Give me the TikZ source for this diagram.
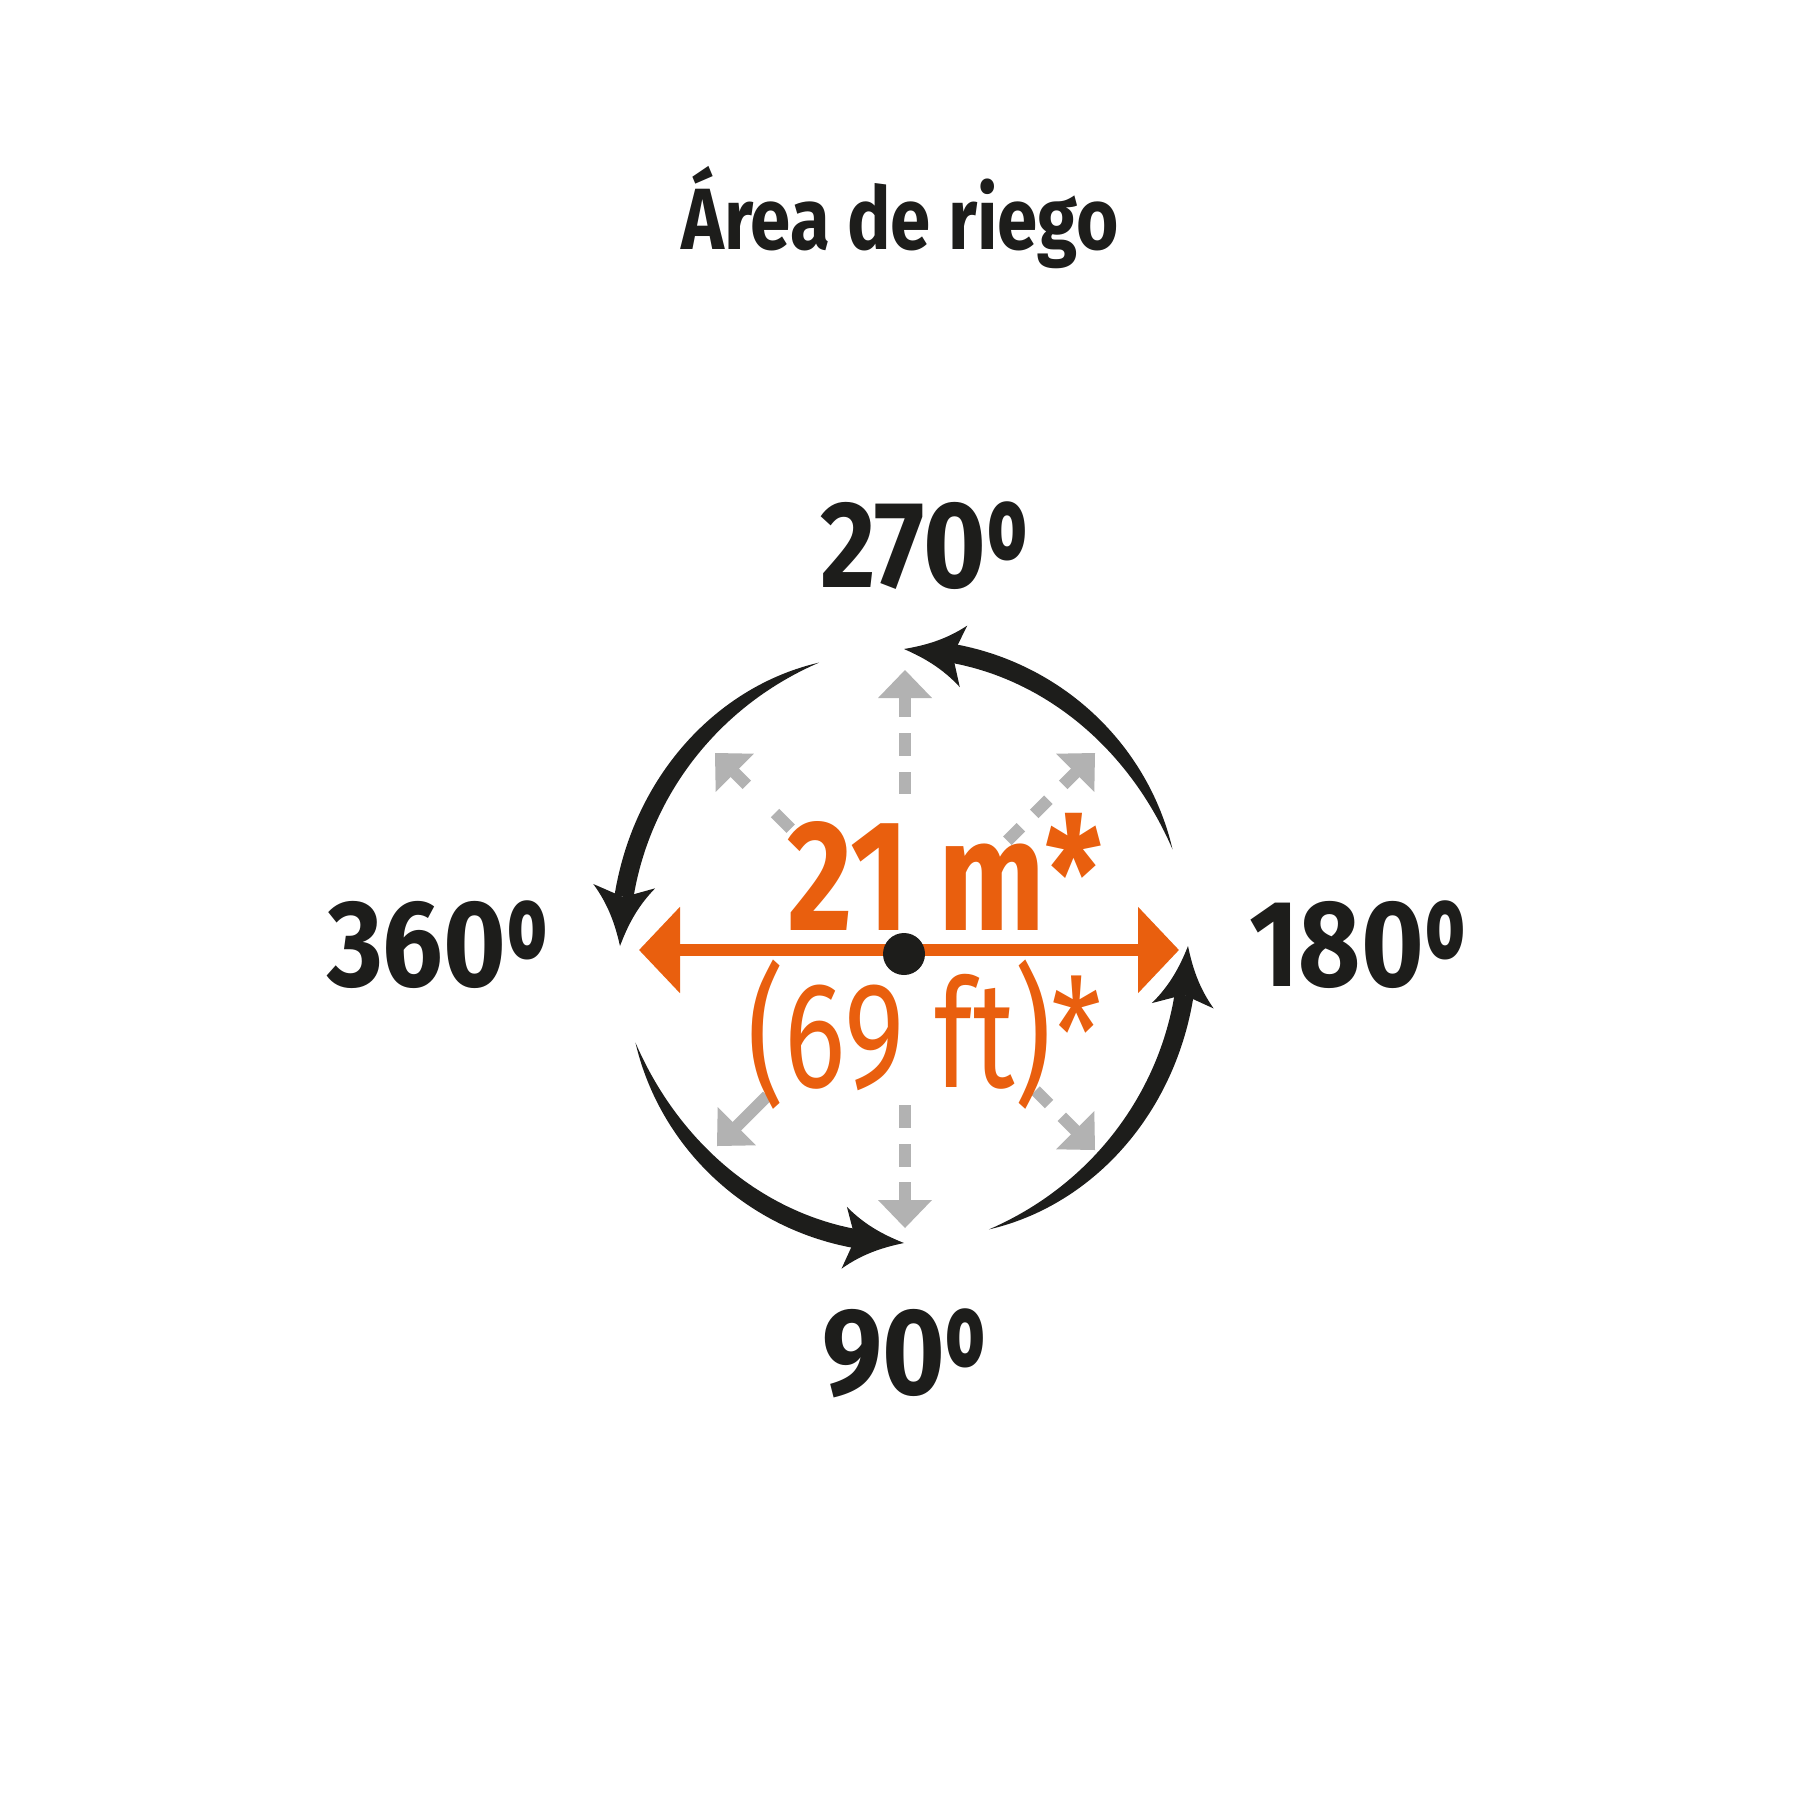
\documentclass[tikz,border=0pt]{standalone}
\usepackage{fontspec}
\usetikzlibrary{arrows.meta,calc}
\setmainfont{Fira Sans}
\newfontfamily\titf{Fira Sans}[FakeStretch=0.835]
\newfontfamily\labf{Fira Sans}[FakeStretch=0.87]
\newfontfamily\bigf{Fira Sans}[FakeStretch=0.8]
\IfFontExistsTF{Fira Sans Book}
  {\newfontfamily\subf{Fira Sans Book}[FakeStretch=0.76]}
  {\newfontfamily\subf{Fira Sans}[FakeStretch=0.76]}
\definecolor{ink}{RGB}{29,29,27}
\definecolor{orng}{RGB}{233,95,14}
\definecolor{gry}{RGB}{178,178,178}
\tikzset{
  txt/.style={inner sep=0pt, outer sep=0pt, anchor=base},
  lbl/.style={txt, anchor=base west, text=ink, font=\labf\bfseries\fontsize{61.7pt}{62pt}\selectfont},
  ttl/.style={txt, text=ink, font=\titf\bfseries\fontsize{43.5pt}{44pt}\selectfont},
  big/.style={txt, text=orng, font=\bigf\bfseries\fontsize{79pt}{80pt}\selectfont},
  sub/.style={txt, text=orng, font=\subf\fontsize{75.5pt}{76pt}\selectfont},
}
\newcommand\ordo{\raisebox{-0.084em}{\scalebox{0.78}[1.12]{º}}}
% gray dashed arrow: tip x, tip y, screen direction, segments (back from tip)
\newcommand\grayarr[4]{%
  \begin{scope}[shift={(#1,#2)},rotate=-#3]
    \fill[gry] (0,0) -- (-28,27) -- (-28,-27) -- cycle;
    \foreach \a/\b in {#4} {\fill[gry] (-\a,-6) rectangle (-\b,6);}
  \end{scope}}
% crescent arc: tail angle, tip angle, head direction
\newcommand\crescarc[3]{%
  \pgfmathsetmacro\an{#2+9.5}%
  \fill[ink] plot[domain=0:1,samples=80,variable=\p]
      ({904+(284+9.5*(1-\p*\p*\p))*cos(\an+(#1-\an)*\p)},
       {946+(297+9.5*(1-\p*\p*\p))*sin(\an+(#1-\an)*\p)})
    -- plot[domain=0:1,samples=80,variable=\p]
      ({904+(284-9.5*(1-(1-\p)*(1-\p)*(1-\p)))*cos(#1-(#1-\an)*\p)},
       {946+(297-9.5*(1-(1-\p)*(1-\p)*(1-\p)))*sin(#1-(#1-\an)*\p)})
    -- cycle;
  \begin{scope}[shift={({904+284*cos(#2)},{946+297*sin(#2)})},rotate=-#3]
    \fill[ink] (0,0) .. controls (-20,6) and (-40,14) .. (-60,31)
      -- (-49,0) -- (-60,-31) .. controls (-40,-14) and (-20,-6) .. (0,0) -- cycle;
  \end{scope}}
% label with ordinal sign (underline of the glyph clipped away)
\newcommand\deglabel[4]{% name, left x, baseline y, digits
  \node[lbl] (#1) at (#2,#3) {#4};
  \begin{scope}
    \clip ($(#1.base east)+(-2,-20)$) rectangle +(70,-110);
    \node[lbl] (#1o) at (#1.base east) {\ordo};
  \end{scope}}
\begin{document}
\begin{tikzpicture}[x=0.5pt,y=-0.5pt]
\useasboundingbox (0,0) rectangle (1800,1800);
\fill[white] (0,0) rectangle (1800,1800);
% title
\node[ttl] (title) at (900,249) {Área de riego};
% gray arrows
\grayarr{905}{670}{270}{20/47,63/86,102/124}
\grayarr{905}{1228}{90}{20/46,61/84,100/123}
\grayarr{715}{753}{225}{20/45,85/107}
\grayarr{1095}{753}{315}{20/45,66/86,105/124}
\grayarr{717}{1146}{135}{20/71}
\grayarr{1095}{1150}{45}{20/47,65/84}
% black arcs
\crescarc{341}{270}{187}
\crescarc{252.6}{180}{94}
\crescarc{161}{90}{5}
\crescarc{72.6}{0}{-85}
% orange double arrow
\coordinate (ela) at (639,950);
\coordinate (elb) at (1179,950);
\draw[orng, line width=5.75pt,
  {Triangle[length=20.5pt,width=42pt]}-{Triangle[length=20.5pt,width=42pt]}] (ela) -- (elb);
\node[circle, fill=ink, minimum size=21pt, inner sep=0pt] (dot) at (904,954) {};
% texts
\node[big] (m) at (945,930) {21 m*};
\node[sub] (ft) at (925,1087) {(69 ft)*};
\deglabel{l270}{820}{587}{270}
\deglabel{l360}{327}{986}{360}
\deglabel{l180}{1249}{986}{180}
\deglabel{l90}{822}{1394}{90}
\end{tikzpicture}
\end{document}
